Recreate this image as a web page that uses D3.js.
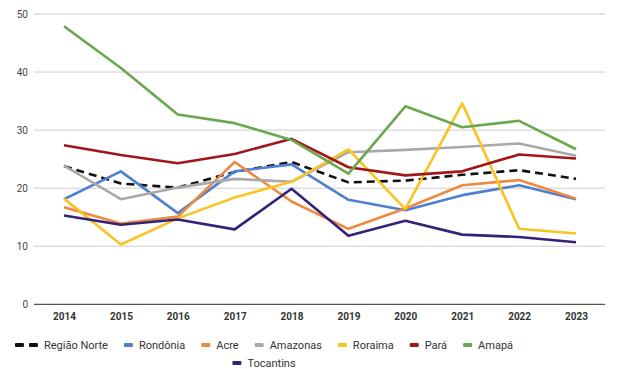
<!DOCTYPE html>
<html>
<head>
<meta charset="utf-8">
<script src="https://cdn.jsdelivr.net/npm/d3@7/dist/d3.min.js"></script>
<style>
  html, body { margin: 0; padding: 0; background: #fff; }
  svg { display: block; }
  text { font-family: Roboto, "Liberation Sans", Arial, sans-serif; }
</style>
</head>
<body>
<svg id="chart" width="619" height="369"></svg>
<script>
// Years on the x axis
const years = [2014, 2015, 2016, 2017, 2018, 2019, 2020, 2021, 2022, 2023];
const yTicks = [0, 10, 20, 30, 40, 50];

// Series names and values per year
const seriesNames = ["Região Norte", "Rondônia", "Acre", "Amazonas", "Roraima", "Pará", "Amapá", "Tocantins"];
const regiaoNorte = [23.8, 20.8, 20.1, 22.8, 24.5, 21.0, 21.3, 22.3, 23.1, 21.6];
const rondonia    = [18.1, 22.9, 15.7, 22.9, 24.1, 18.0, 16.2, 18.8, 20.5, 18.1];
const acre        = [16.7, 13.9, 15.1, 24.5, 17.7, 13.0, 16.5, 20.5, 21.4, 18.2];
const amazonas    = [23.9, 18.1, 20.1, 21.6, 21.1, 26.2, 26.6, 27.1, 27.7, 25.6];
const roraima     = [18.2, 10.3, 14.8, 18.4, 21.1, 26.7, 16.4, 34.6, 13.0, 12.2];
const para        = [27.4, 25.7, 24.3, 25.9, 28.5, 23.6, 22.2, 22.9, 25.8, 25.1];
const amapa       = [47.9, 40.7, 32.7, 31.2, 28.3, 22.5, 34.1, 30.5, 31.6, 26.7];
const tocantins   = [15.3, 13.7, 14.6, 12.9, 19.9, 11.8, 14.4, 12.0, 11.6, 10.7];

const seriesValues = [regiaoNorte, rondonia, acre, amazonas, roraima, para, amapa, tocantins];
const colors = ["#111111", "#4f80cf", "#ee8a40", "#a9a9a9", "#fac321", "#a11616", "#6aa84f", "#35217a"];

const svg = d3.select("#chart");

const x = d3.scalePoint().domain(years).range([64, 576]);
const y = d3.scaleLinear().domain([0, 50]).range([304.3, 14]);

// Horizontal gridlines
const grid = svg.append("g");
grid.selectAll("line")
  .data(yTicks.filter(t => t > 0))
  .join("line")
  .attr("x1", 34).attr("x2", 605)
  .attr("y1", d => y(d)).attr("y2", d => y(d))
  .attr("stroke", d => d === 50 ? "#e4e4e4" : "#cfcfcf")
  .attr("stroke-width", d => d === 50 ? 2 : 1);

// Y axis labels
const yAxis = svg.append("g")
  .attr("transform", "translate(28,0)")
  .call(d3.axisLeft(y).tickValues(yTicks).tickSize(0).tickPadding(0));
yAxis.select(".domain").remove();
yAxis.selectAll("text")
  .attr("font-size", 10)
  .attr("fill", "#444")
  .attr("font-family", "Roboto, 'Liberation Sans', Arial, sans-serif");

// Baseline
svg.append("line")
  .attr("x1", 34).attr("x2", 605)
  .attr("y1", y(0)).attr("y2", y(0))
  .attr("stroke", "#555").attr("stroke-width", 1.2);

// X axis labels
const xAxis = svg.append("g")
  .attr("transform", `translate(0,${y(0)})`)
  .call(d3.axisBottom(x).tickSize(0).tickPadding(9));
xAxis.select(".domain").remove();
xAxis.selectAll("text")
  .attr("font-size", 10)
  .attr("font-weight", "bold")
  .attr("fill", "#333")
  .attr("font-family", "'Open Sans', 'Liberation Sans', Arial, sans-serif");

// Lines
const line = d3.line()
  .x((d, i) => x(years[i]))
  .y(d => y(d));

svg.append("g")
  .selectAll("path")
  .data(seriesValues)
  .join("path")
  .attr("d", d => line(d))
  .attr("fill", "none")
  .attr("stroke", (d, i) => colors[i])
  .attr("stroke-width", 2.6)
  .attr("stroke-linejoin", "round")
  .attr("stroke-dasharray", (d, i) => i === 0 ? "8,5" : null);

// Legend, centred in two rows
const legend = svg.append("g");
const rows = [seriesNames.slice(0, 7), seriesNames.slice(7)];
const rowY = [345, 363];
const centerX = 264;
rows.forEach((names, r) => {
  const g = legend.append("g");
  let cx = 0;
  names.forEach(name => {
    const i = seriesNames.indexOf(name);
    const item = g.append("g").attr("transform", `translate(${cx},0)`);
    let iconW;
    if (i === 0) {
      item.append("rect").attr("x", 0).attr("y", -2).attr("width", 9).attr("height", 4).attr("rx", 1).attr("fill", colors[i]);
      item.append("rect").attr("x", 14).attr("y", -2).attr("width", 9).attr("height", 4).attr("rx", 1).attr("fill", colors[i]);
      iconW = 23;
    } else {
      item.append("rect").attr("x", 0).attr("y", -2).attr("width", 9).attr("height", 4).attr("rx", 1).attr("fill", colors[i]);
      iconW = 9;
    }
    const t = item.append("text")
      .attr("x", iconW + 6)
      .attr("y", 0)
      .attr("dy", "0.35em")
      .attr("font-size", 11)
      .attr("fill", "#333")
      .text(name);
    const w = t.node().getComputedTextLength();
    cx += iconW + 6 + w + 16;
  });
  const total = cx - 16;
  g.attr("transform", `translate(${centerX - total / 2},${rowY[r]})`);
});
</script>
</body>
</html>
